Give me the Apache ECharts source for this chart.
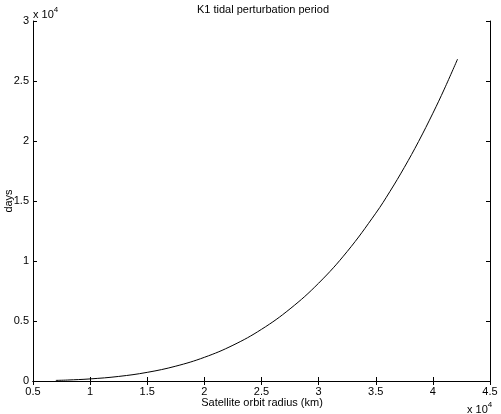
<!DOCTYPE html>
<html>
<head>
<meta charset="utf-8">
<script src="https://cdn.jsdelivr.net/npm/echarts@6/dist/echarts.min.js"></script>
<style>
  html, body { margin: 0; padding: 0; background: #fff; }
  #chart { width: 501px; height: 414px; }
</style>
</head>
<body>
<div id="chart"></div>
<script>
// orbit radius (km) and K1 perturbation period (days)
const radiusKm = [7000, 8000, 10000, 12500, 15000, 17500, 20000, 22500, 25000,
                  27500, 30000, 32500, 35000, 36250, 37500, 38750, 40000, 41000, 42164];
const periodDays = [50, 80, 174, 381, 721, 1237, 1973, 2979, 4306,
                    6014, 8151, 10790, 13981, 15806, 17799, 19962, 22314, 24325, 26830];
const xTicks = [5000, 45000, 5000]; // min, max, step
const yTicks = [0, 30000, 5000];

const font = "'Liberation Sans', Arial, Helvetica, sans-serif";
const chart = echarts.init(document.getElementById("chart"));

const fmt = v => String(v / 10000);
const points = radiusKm.map((r, i) => [r, periodDays[i]]);

const baseAxis = {
    axisLine: { show: true, lineStyle: { color: "#000", width: 1 } },
    axisTick: { show: true, inside: true, length: 4, lineStyle: { color: "#000" } },
    splitLine: { show: false },
    axisLabel: { color: "#000", fontSize: 11, fontFamily: font, formatter: fmt }
};

chart.setOption({
    animation: false,
    grid: { left: 33, right: 11, top: 21, bottom: 33, containLabel: false },
    xAxis: [
        Object.assign({}, baseAxis, {
            type: "value", position: "bottom",
            min: xTicks[0], max: xTicks[1], interval: xTicks[2],
            axisLabel: Object.assign({}, baseAxis.axisLabel, { margin: 5 })
        }),
        Object.assign({}, baseAxis, {
            type: "value", position: "top",
            min: xTicks[0], max: xTicks[1], interval: xTicks[2],
            axisLabel: { show: false }
        })
    ],
    yAxis: [
        Object.assign({}, baseAxis, {
            type: "value", position: "left",
            min: yTicks[0], max: yTicks[1], interval: yTicks[2],
            axisLabel: Object.assign({}, baseAxis.axisLabel, { margin: 4 })
        }),
        Object.assign({}, baseAxis, {
            type: "value", position: "right",
            min: yTicks[0], max: yTicks[1], interval: yTicks[2],
            axisLabel: { show: false }
        })
    ],
    series: [{
        type: "line",
        data: points,
        smooth: 0.4,
        showSymbol: false,
        lineStyle: { color: "#000", width: 1 }
    }],
    graphic: [
        { // title
            type: "text", x: 263, y: 4,
            style: { text: "K1 tidal perturbation period", font: "11px " + font,
                     fill: "#000", textAlign: "center" }
        },
        { // x axis name
            type: "text", x: 262, y: 397,
            style: { text: "Satellite orbit radius (km)", font: "11px " + font,
                     fill: "#000", textAlign: "center" }
        },
        { // y axis name
            type: "text", x: 3, y: 201, rotation: Math.PI / 2,
            style: { text: "days", font: "11px " + font, fill: "#000",
                     textAlign: "center", textVerticalAlign: "top" }
        },
        { // y exponent
            type: "text", x: 33, y: 5,
            style: {
                text: "{b|x 10}{s|4}",
                rich: {
                    b: { fontSize: 11, fontFamily: font, fill: "#000", padding: [4, 0, 0, 0] },
                    s: { fontSize: 8, fontFamily: font, fill: "#000", padding: [0, 0, 6, 0] }
                }
            }
        },
        { // x exponent
            type: "text", x: 467, y: 400,
            style: {
                text: "{b|x 10}{s|4}",
                rich: {
                    b: { fontSize: 11, fontFamily: font, fill: "#000", padding: [4, 0, 0, 0] },
                    s: { fontSize: 8, fontFamily: font, fill: "#000", padding: [0, 0, 6, 0] }
                }
            }
        }
    ]
});
</script>
</body>
</html>
